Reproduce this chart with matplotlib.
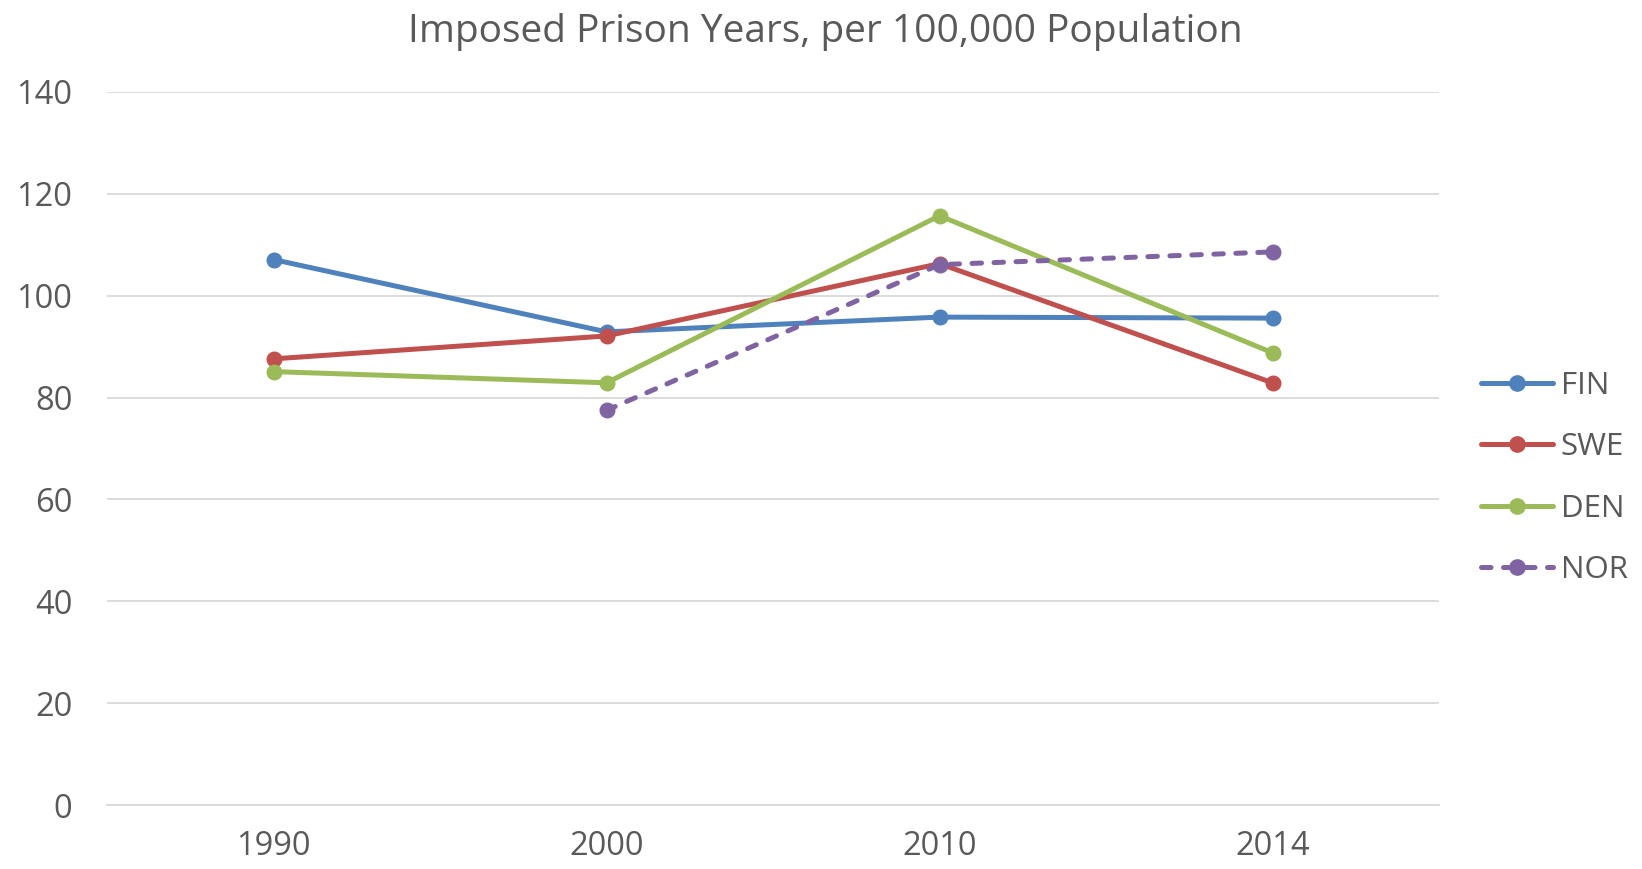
import matplotlib.pyplot as plt
from matplotlib.lines import Line2D

years = ["1990", "2000", "2010", "2014"]
fin = [107.1, 92.9, 95.8, 95.6]
swe = [87.6, 92.1, 106.3, 82.9]
den = [85.1, 82.9, 115.7, 88.8]
nor = [None, 77.5, 106.1, 108.6]

plt.rcParams["font.family"] = ["Open Sans", "DejaVu Sans"]
grey = "#595959"

fig = plt.figure(figsize=(16.42, 8.69), dpi=100)
ax = fig.add_axes([107 / 1642, 1 - 805 / 869, (1439 - 107) / 1642, (805 - 92) / 869])

x = list(range(len(years)))
series = [("FIN", fin, "#4F81BD", "-"), ("SWE", swe, "#C0504D", "-"),
          ("DEN", den, "#9BBB59", "-"), ("NOR", nor, "#8064A2", (0, (1.9, 2.5)))]
handles = []
for name, vals, col, ls in series:
    xs = [i for i, v in zip(x, vals) if v is not None]
    ys = [v for v in vals if v is not None]
    ax.plot(xs, ys, color=col, lw=3.6, ls=ls, marker="o", ms=10.5,
            solid_capstyle="round", dash_capstyle="round", zorder=3)
    handles.append(Line2D([], [], color=col, lw=3.6, ls=ls, marker="o", ms=11,
                          solid_capstyle="round", dash_capstyle="round", label=name))

ax.set_xlim(-0.5, 3.5)
ax.set_ylim(0, 140)
ax.set_yticks(range(0, 141, 20))
ax.set_xticks(x)
ax.set_xticklabels(years)
ax.grid(axis="y", color="#D9D9D9", lw=1.3)
ax.set_axisbelow(True)
for s in ["top", "right", "left"]:
    ax.spines[s].set_visible(False)
ax.spines["bottom"].set_color("#D9D9D9")
ax.spines["bottom"].set_linewidth(1.3)
ax.tick_params(length=0, labelsize=23.5, colors=grey)
ax.tick_params(axis="x", pad=18)
ax.tick_params(axis="y", pad=25)

fig.text(825 / 1642, 1 - 42 / 869, "Imposed Prison Years, per 100,000 Population",
         ha="center", va="baseline", fontsize=28, color=grey)

fig.legend(handles=handles, loc="center left", bbox_to_anchor=(1481 / 1642, 1 - 478 / 869),
           frameon=False, fontsize=22.5, labelcolor=grey, handlelength=2.3,
           handletextpad=0.25, labelspacing=1.0, borderaxespad=0, borderpad=0)

fig.savefig("out.png", dpi=100)
